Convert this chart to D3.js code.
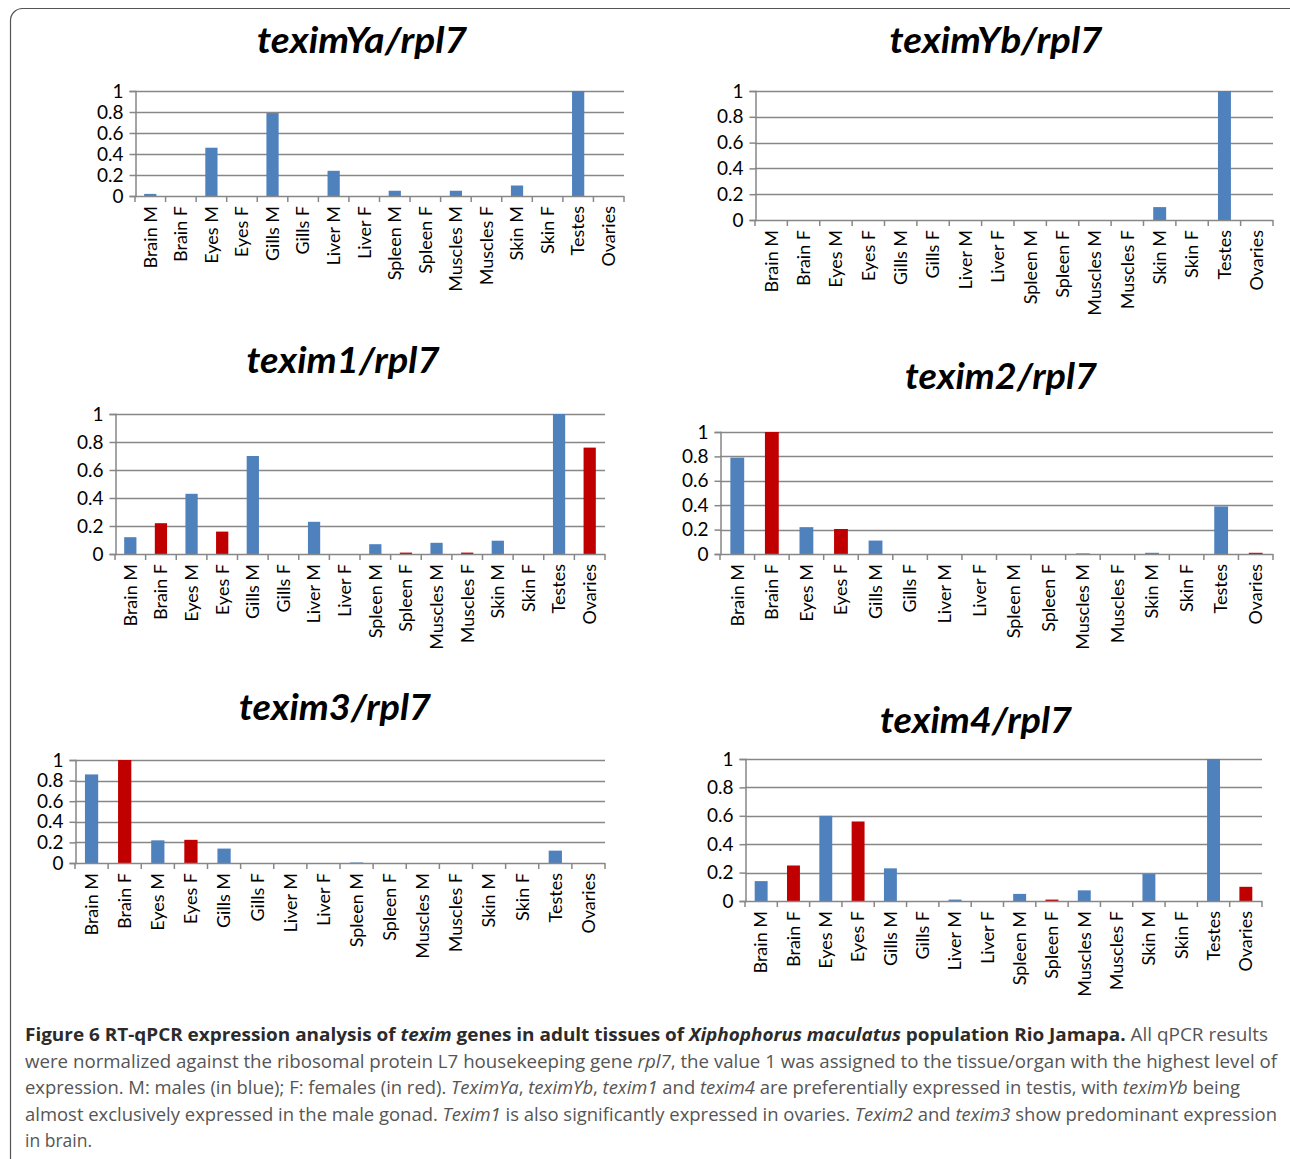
<!DOCTYPE html>
<html>
<head>
<meta charset="utf-8">
<script src="https://cdn.jsdelivr.net/npm/d3@7"></script>
<style>
  body { margin: 0; background: #fff; }
  svg { display: block; }
  .tick text { font-family: Lato, "Open Sans", sans-serif; fill: #000; }
</style>
</head>
<body>
<div id="figure"></div>
<script>
// tissues on the x axis, same for every panel
var tissues = ["Brain M", "Brain F", "Eyes M", "Eyes F", "Gills M", "Gills F",
    "Liver M", "Liver F", "Spleen M", "Spleen F", "Muscles M", "Muscles F",
    "Skin M", "Skin F", "Testes", "Ovaries"];
var sex = ["M", "F", "M", "F", "M", "F", "M", "F", "M", "F", "M", "F", "M", "F", "M", "F"];

var yTicks = [0, 0.2, 0.4, 0.6, 0.8, 1];

// relative expression values
var teximYa = [0.02, 0, 0.46, 0, 0.79, 0, 0.24, 0, 0.05, 0, 0.05, 0, 0.10, 0, 1.0, 0];
var teximYb = [0, 0, 0, 0, 0, 0, 0, 0, 0, 0, 0, 0, 0.10, 0, 1.0, 0];
var texim1 = [0.12, 0.22, 0.43, 0.16, 0.70, 0, 0.23, 0, 0.07, 0.01, 0.08, 0.01, 0.095, 0, 1.0, 0.76];
var texim2 = [0.79, 1.0, 0.22, 0.205, 0.11, 0, 0, 0, 0, 0, 0.005, 0, 0.01, 0, 0.39, 0.01];
var texim3 = [0.86, 1.0, 0.22, 0.225, 0.14, 0, 0, 0, 0.005, 0, 0, 0, 0, 0, 0.12, 0];
var texim4 = [0.14, 0.25, 0.60, 0.56, 0.23, 0, 0.01, 0, 0.05, 0.01, 0.075, 0, 0.19, 0, 1.0, 0.10];

var titles = ["teximYa", "teximYb", "texim1", "texim2", "texim3", "texim4"];
var series = [teximYa, teximYb, texim1, texim2, texim3, texim4];

var colors = {M: "#4f81bd", F: "#c00000"};

// panel placement (plot box + title)
var panels = [
    {x0: 135, x1: 624, yTop: 91, yBase: 196, tx: 362, ty: 53, tw: 210},
    {x0: 755, x1: 1273, yTop: 91, yBase: 220, tx: 996, ty: 53, tw: 213},
    {x0: 115, x1: 605, yTop: 414, yBase: 554, tx: 343, ty: 373, tw: 193},
    {x0: 720, x1: 1273, yTop: 432, yBase: 554, tx: 1001, ty: 389, tw: 192},
    {x0: 75, x1: 605, yTop: 760, yBase: 863, tx: 335, ty: 720, tw: 192},
    {x0: 745, x1: 1262, yTop: 759, yBase: 901, tx: 976, ty: 733, tw: 192}
];

var width = 1290;
var height = 1159;

var svg = d3.select("#figure")
    .append("svg")
    .attr("width", width)
    .attr("height", height);

// outer frame
svg.append("rect")
    .attr("x", 10.5)
    .attr("y", 8.5)
    .attr("width", 1300)
    .attr("height", 1200)
    .attr("rx", 12)
    .attr("fill", "none")
    .attr("stroke", "#555")
    .attr("stroke-width", 1.2);

panels.forEach(function(p, i) {
    var g = svg.append("g").attr("class", "panel");
    var values = series[i];

    var x = d3.scaleBand()
        .domain(tissues)
        .range([p.x0, p.x1])
        .paddingInner(0)
        .paddingOuter(0);

    var y = d3.scaleLinear()
        .domain([0, 1])
        .range([p.yBase, p.yTop]);

    // title
    var title = g.append("text")
        .attr("x", p.tx)
        .attr("y", p.ty)
        .attr("text-anchor", "middle")
        .attr("font-family", "Lato, 'Open Sans', sans-serif")
        .attr("font-weight", "bold")
        .attr("font-style", "italic")
        .attr("font-size", 36)
        .attr("textLength", p.tw)
        .attr("lengthAdjust", "spacingAndGlyphs");
    title.append("tspan").text(titles[i] + "/rpl7");

    // gridlines
    g.append("g")
        .selectAll("line")
        .data(yTicks.filter(function(t) { return t > 0; }))
        .enter()
        .append("line")
        .attr("x1", p.x0)
        .attr("x2", p.x1)
        .attr("y1", function(d) { return Math.round(y(d)) + 0.5; })
        .attr("y2", function(d) { return Math.round(y(d)) + 0.5; })
        .attr("stroke", "#878787")
        .attr("stroke-width", 1.5);

    // bars
    var bw = x.bandwidth() / 2.5;
    g.append("g")
        .selectAll("rect")
        .data(tissues)
        .enter()
        .append("rect")
        .attr("x", function(d) { return x(d) + (x.bandwidth() - bw) / 2; })
        .attr("width", bw)
        .attr("y", function(d, j) { return y(values[j]); })
        .attr("height", function(d, j) { return y(0) - y(values[j]); })
        .attr("fill", function(d, j) { return colors[sex[j]]; });

    // y axis
    var yAxis = d3.axisLeft(y)
        .tickValues(yTicks)
        .tickSize(6)
        .tickPadding(6)
        .tickFormat(function(d) { return d === 0 || d === 1 ? String(d) : d3.format(".1f")(d); });

    var ya = g.append("g")
        .attr("transform", "translate(" + (p.x0 + 0.5) + ",0)")
        .call(yAxis);
    ya.selectAll("text").attr("font-size", 19);
    ya.select(".domain").attr("stroke", "#878787").attr("stroke-width", 1.5);
    ya.selectAll(".tick line").attr("stroke", "#878787").attr("stroke-width", 1.5);

    // x axis: category boundaries as ticks
    g.append("line")
        .attr("x1", p.x0)
        .attr("x2", p.x1)
        .attr("y1", p.yBase + 0.5)
        .attr("y2", p.yBase + 0.5)
        .attr("stroke", "#878787")
        .attr("stroke-width", 1.5);

    g.append("g")
        .selectAll("line")
        .data(tissues.concat(["end"]))
        .enter()
        .append("line")
        .attr("x1", function(d, j) { return p.x0 + j * x.step(); })
        .attr("x2", function(d, j) { return p.x0 + j * x.step(); })
        .attr("y1", p.yBase)
        .attr("y2", p.yBase + 6)
        .attr("stroke", "#878787")
        .attr("stroke-width", 1.5);

    g.append("g")
        .selectAll("text")
        .data(tissues)
        .enter()
        .append("text")
        .attr("transform", function(d) {
            return "translate(" + (x(d) + x.bandwidth() / 2) + "," + (p.yBase + 10) + ")rotate(-90)";
        })
        .attr("dy", "0.35em")
        .attr("text-anchor", "end")
        .attr("font-family", "Lato, 'Open Sans', sans-serif")
        .attr("font-size", 18)
        .text(function(d) { return d; });
});

// caption
var captionLines = [
    {w: 1243, parts: [
        ["b", "Figure 6 RT-qPCR expression analysis of "], ["bi", "texim"], ["b", " genes in adult tissues of "],
        ["bi", "Xiphophorus maculatus"], ["b", " population Rio Jamapa."], ["r", " All qPCR results"]]},
    {w: 1252, parts: [
        ["r", "were normalized against the ribosomal protein L7 housekeeping gene "], ["i", "rpl7"],
        ["r", ", the value 1 was assigned to the tissue/organ with the highest level of"]]},
    {w: 1215, parts: [
        ["r", "expression. M: males (in blue); F: females (in red). "], ["i", "TeximYa"], ["r", ", "],
        ["i", "teximYb"], ["r", ", "], ["i", "texim1"], ["r", " and "], ["i", "texim4"],
        ["r", " are preferentially expressed in testis, with "], ["i", "teximYb"], ["r", " being"]]},
    {w: 1252, parts: [
        ["r", "almost exclusively expressed in the male gonad. "], ["i", "Texim1"],
        ["r", " is also significantly expressed in ovaries. "], ["i", "Texim2"], ["r", " and "],
        ["i", "texim3"], ["r", " show predominant expression"]]},
    {w: 0, parts: [["r", "in brain."]]}
];

captionLines.forEach(function(line, k) {
    var t = svg.append("text")
        .attr("x", 25)
        .attr("y", 1041 + k * 26.5)
        .attr("font-family", "'Open Sans', 'Noto Sans', sans-serif")
        .attr("font-size", 17.5)
        .attr("fill", "#555");
    if (line.w) {
        t.attr("textLength", line.w).attr("lengthAdjust", "spacingAndGlyphs");
    }
    line.parts.forEach(function(part) {
        var s = t.append("tspan").text(part[1]);
        if (part[0].indexOf("b") >= 0) {
            s.attr("font-weight", "bold").attr("fill", "#2b2b2b");
        }
        if (part[0].indexOf("i") >= 0) {
            s.attr("font-style", "italic");
        }
    });
});
</script>
</body>
</html>
